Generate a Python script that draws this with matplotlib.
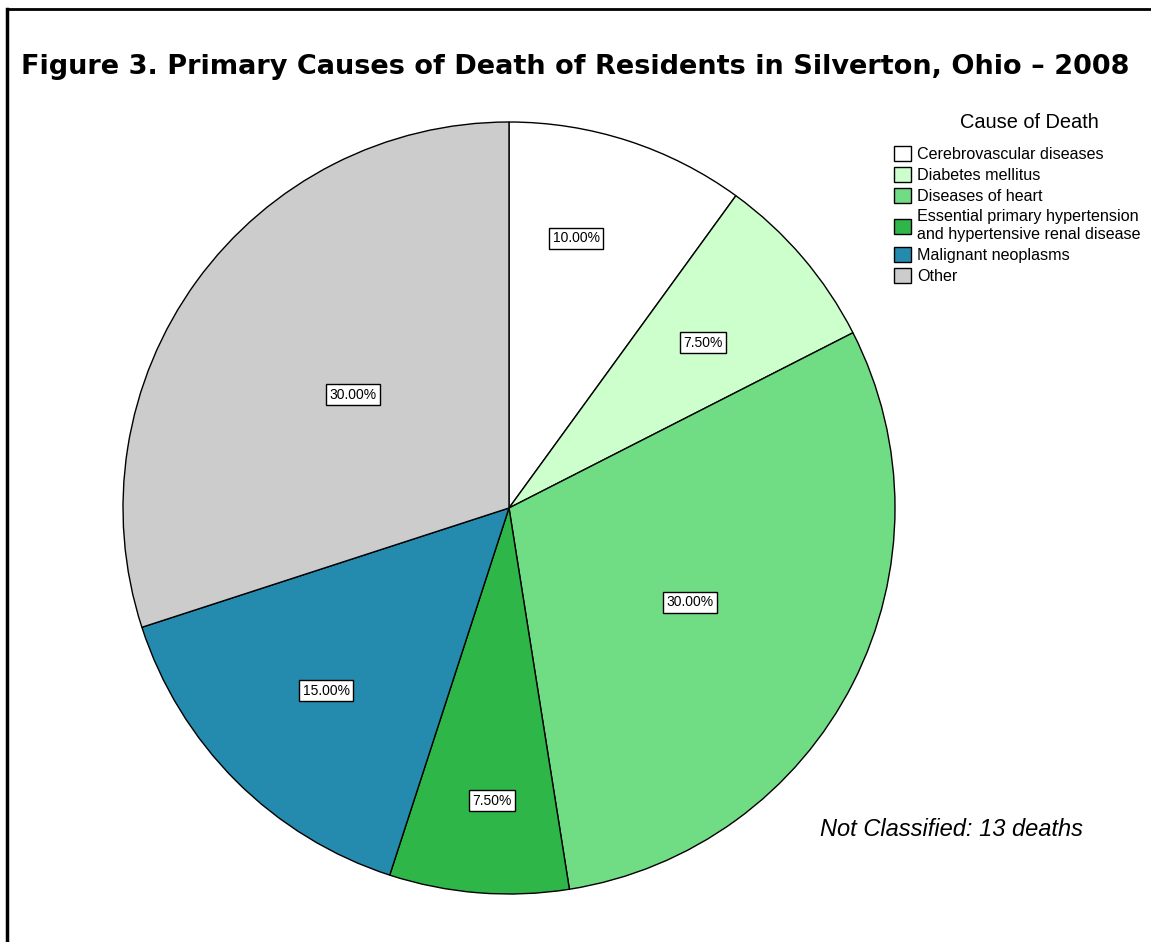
import matplotlib
matplotlib.use("Agg")
import matplotlib.pyplot as plt
from matplotlib.patches import Patch
from matplotlib.lines import Line2D
import numpy as np

categories = ["Cerebrovascular diseases", "Diabetes mellitus", "Diseases of heart",
              "Essential primary hypertension\nand hypertensive renal disease",
              "Malignant neoplasms", "Other"]
percents = [10.0, 7.5, 30.0, 7.5, 15.0, 30.0]
colors = ["#ffffff", "#ccffcc", "#70dc84", "#2eb748", "#248bae", "#cccccc"]
label_frac = [0.72, 0.66, 0.53, 0.76, 0.67, 0.50]
label_shift = [4.0, 0.0, -0.5, 1.2, 0.0, 0.0]
title = "Figure 3. Primary Causes of Death of Residents in Silverton, Ohio \u2013 2008"
legend_title = "Cause of Death"
note = "Not Classified: 13 deaths"

W, H = 1151, 942
fig = plt.figure(figsize=(W / 100, H / 100), dpi=100)
fig.patch.set_facecolor("white")

cx, cy, R = 509, 508, 386
ax = fig.add_axes([(cx - R) / W, (H - cy - R) / H, 2 * R / W, 2 * R / H])
wedges, _ = ax.pie(percents, colors=colors, startangle=90, counterclock=False,
                   radius=1.0, wedgeprops=dict(edgecolor="black", linewidth=1.0))
ax.set_xlim(-1, 1)
ax.set_ylim(-1, 1)
ax.set_aspect("equal")
ax.axis("off")

for w, p, f, s in zip(wedges, percents, label_frac, label_shift):
    ang = np.deg2rad((w.theta1 + w.theta2) / 2 + s)
    ax.text(f * np.cos(ang), f * np.sin(ang), f"{p:.2f}%", ha="center", va="center",
            fontsize=10, family="Liberation Sans",
            bbox=dict(boxstyle="square,pad=0.25", fc="white", ec="black", lw=1.0))

# border
fig.add_artist(Line2D([7 / W, 1.0], [1 - 9 / H, 1 - 9 / H], color="black", lw=2,
                      transform=fig.transFigure))
fig.add_artist(Line2D([7 / W, 7 / W], [0, 1 - 9 / H], color="black", lw=2.5,
                      transform=fig.transFigure))

fig.text(575 / W, 1 - 67 / H, title, ha="center", va="center", fontsize=19.5,
         fontweight="heavy", family="DejaVu Sans")

fig.text(1029 / W, 1 - 122 / H, legend_title, ha="center", va="center",
         fontsize=14.4, family="Liberation Sans")

handles = [Patch(facecolor=c, edgecolor="black", linewidth=1.0) for c in colors]
leg = fig.legend(handles, categories, loc="upper left", bbox_to_anchor=(886 / W, 1 - 138 / H),
                 frameon=False,
                 prop=dict(family="Liberation Sans", size=11.6),
                 handlelength=1.05, handleheight=1.05, handletextpad=0.4,
                 labelspacing=0.32, borderpad=0.0)

fig.text(952 / W, 1 - 829 / H, note, ha="center", va="center", fontsize=17,
         style="italic", family="Liberation Sans")

fig.savefig("out.png", dpi=100, facecolor="white")
